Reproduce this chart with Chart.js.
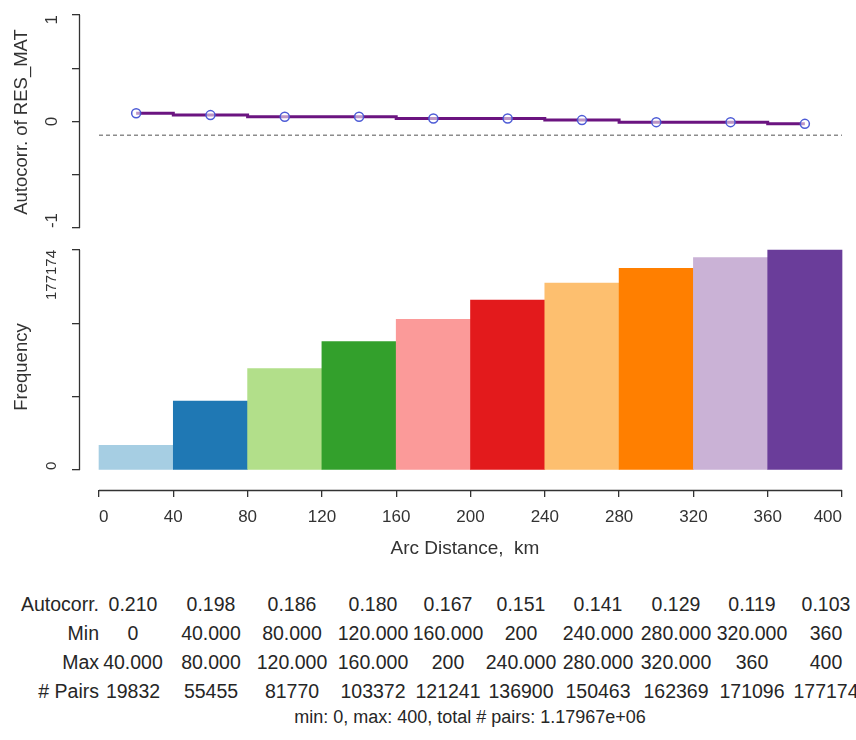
<!DOCTYPE html>
<html>
<head>
<meta charset="utf-8">
<script src="https://cdn.jsdelivr.net/npm/chart.js@4.4.1/dist/chart.umd.min.js"></script>
<style>
	html, body { margin: 0; padding: 0; background: #fff; overflow: hidden; }
	#wrap { position: relative; width: 856px; height: 740px; overflow: hidden;
		font-family: "Liberation Sans", Arial, sans-serif; color: #262626; }
	#wrap canvas { position: absolute; left: 0; }
	#top { top: 0; }
	#bottom { top: 240px; }
	.cell, .rowname, #foot { position: absolute; white-space: pre; line-height: 20px; }
	.cell { font-size: 19.5px; transform: translateX(-50%); }
	.rowname { font-size: 19.5px; text-align: right; }
	#foot { font-size: 18px; transform: translateX(-50%); }
</style>
</head>
<body>
<div id="wrap">
	<canvas id="top" width="856" height="240"></canvas>
	<canvas id="bottom" width="856" height="330"></canvas>
	<div id="table"></div>
</div>
<script>
// distance classes, km
var binMin = [0, 40, 80, 120, 160, 200, 240, 280, 320, 360];
var binMax = [40, 80, 120, 160, 200, 240, 280, 320, 360, 400];

// upper panel
var corrPlotted = [0.077, 0.060, 0.045, 0.045, 0.028, 0.028, 0.013, -0.006, -0.006, -0.022];
var corrDashed = -0.13;

// lower panel: number of pairs in each class
var pairs = [19832, 55455, 81770, 103372, 121241, 136900, 150463, 162369, 171096, 177174];

// table under the plot, as printed
var rowNames = ["Autocorr.", "Min", "Max", "# Pairs"];
var corrText = ["0.210", "0.198", "0.186", "0.180", "0.167", "0.151", "0.141", "0.129", "0.119", "0.103"];
var minText = ["0", "40.000", "80.000", "120.000", "160.000", "200", "240.000", "280.000", "320.000", "360"];
var maxText = ["40.000", "80.000", "120.000", "160.000", "200", "240.000", "280.000", "320.000", "360", "400"];
var footText = "min: 0, max: 400, total # pairs: 1.17967e+06";

// axes
var xTicks = [0, 40, 80, 120, 160, 200, 240, 280, 320, 360, 400];
var corrTicks = [-1, -0.5, 0, 0.5, 1];
var corrTickLabels = ["-1", "", "0", "", "1"];
var freqTicks = [0, 59058, 118116, 177174];
var freqTickLabels = ["0", "", "", "177174"];

var binColors = ["#a6cee3", "#1f78b4", "#b2df8a", "#33a02c", "#fb9a99",
	"#e31a1c", "#fdbf6f", "#ff7f00", "#cab2d6", "#6a3d9a"];

var FONT = "'Liberation Sans', Arial, sans-serif";
var INK = "#333";
Chart.defaults.font.family = FONT;
Chart.defaults.color = INK;

// x range so that 0 and 400 land where R put them
var xMin = -10.23, xMax = 404.3;

function centers() {
	return binMin.map(function (m, i) { return (m + binMax[i]) / 2; });
}

/* R style axes: the line only runs from first to last tick,
   y labels sit parallel to the axis and are kept inside that span */
var rAxes = {
	id: "rAxes",
	afterDraw: function (chart, args, opts) {
		var ctx = chart.ctx;
		ctx.save();
		ctx.strokeStyle = INK;
		ctx.lineWidth = 1.3;
		Object.keys(chart.scales).forEach(function (id) {
			var s = chart.scales[id];
			if (s.options.display === false || !s.ticks.length) return;
			var a = s.getPixelForValue(s.ticks[0].value),
				b = s.getPixelForValue(s.ticks[s.ticks.length - 1].value);
			ctx.beginPath();
			if (s.isHorizontal()) {
				ctx.moveTo(a, s.top + 0.5);
				ctx.lineTo(b, s.top + 0.5);
			} else {
				ctx.moveTo(s.right - 0.5, a);
				ctx.lineTo(s.right - 0.5, b);
			}
			ctx.stroke();
		});

		var y = chart.scales.y;
		var lo = y.getPixelForValue(y.ticks[0].value),
			hi = y.getPixelForValue(y.ticks[y.ticks.length - 1].value);
		ctx.fillStyle = INK;
		ctx.font = opts.fontSize + "px " + FONT;
		ctx.textAlign = "center";
		ctx.textBaseline = "middle";
		y.ticks.forEach(function (t, i) {
			var txt = opts.labels[i];
			if (!txt) return;
			var w = ctx.measureText(txt).width;
			var p = y.getPixelForValue(t.value);
			p = Math.min(Math.max(p, hi + w / 2), lo - w / 2);
			ctx.save();
			ctx.translate(opts.labelX, p);
			ctx.rotate(-Math.PI / 2);
			ctx.fillText(txt, 0, 0);
			ctx.restore();
		});
		ctx.restore();
	}
};

function yAxis(min, max, ticks, title) {
	return {
		min: min,
		max: max,
		afterFit: function (s) { s.width = 80; },
		afterBuildTicks: function (s) {
			s.ticks = ticks.map(function (v) { return {value: v}; });
		},
		ticks: {display: false},
		grid: {drawOnChartArea: false, drawTicks: true, tickLength: 8, color: INK, lineWidth: 1.3},
		border: {display: false},
		title: {display: true, text: title, color: INK, font: {size: 18.5}, padding: {top: 11, bottom: 0}}
	};
}

// upper panel: correlogram
new Chart(document.getElementById("top"), {
	type: "line",
	data: {
		datasets: [{
			data: centers().map(function (c, i) { return {x: c, y: corrPlotted[i]}; }),
			stepped: "middle",
			borderColor: "#6b1480",
			borderWidth: 3,
			pointRadius: 4.5,
			pointBorderColor: "#4d5bd6",
			pointBorderWidth: 1.5,
			pointBackgroundColor: "rgba(255,255,255,0.55)",
			order: 1
		}, {
			data: [{x: binMin[0], y: corrDashed}, {x: binMax[binMax.length - 1], y: corrDashed}],
			borderColor: "#8c8c8c",
			borderWidth: 1.5,
			borderDash: [4, 3],
			pointRadius: 0,
			order: 2
		}]
	},
	options: {
		responsive: false,
		animation: false,
		layout: {padding: {top: 10, bottom: 4, left: 0, right: 6}},
		plugins: {
			legend: {display: false},
			tooltip: {enabled: false},
			rAxes: {labels: corrTickLabels, fontSize: 17, labelX: 52}
		},
		scales: {
			x: {type: "linear", display: false, min: xMin, max: xMax},
			y: yAxis(-1.0558, 1.0465, corrTicks, "Autocorr. of RES_MAT")
		}
	},
	plugins: [rAxes]
});

// lower panel: pairs per class
new Chart(document.getElementById("bottom"), {
	type: "bar",
	data: {
		datasets: [{
			data: centers().map(function (c, i) { return {x: c, y: pairs[i]}; }),
			backgroundColor: binColors,
			borderWidth: 0,
			barPercentage: 1,
			categoryPercentage: 1
		}]
	},
	options: {
		responsive: false,
		animation: false,
		layout: {padding: {top: 4, bottom: 0, left: 0, right: 6}},
		plugins: {
			legend: {display: false},
			tooltip: {enabled: false},
			rAxes: {labels: freqTickLabels, fontSize: 15, labelX: 52}
		},
		scales: {
			x: {
				type: "linear",
				min: xMin,
				max: xMax,
				offset: false,
				afterFit: function (s) { s.height = 80; },
				afterBuildTicks: function (s) {
					s.ticks = xTicks.map(function (v) { return {value: v}; });
				},
				ticks: {align: "inner", padding: 10, font: {size: 17}, color: INK, maxRotation: 0,
					callback: function (v) { return String(v); }},
				grid: {drawOnChartArea: false, drawTicks: true, tickLength: 7, color: INK, lineWidth: 1.3, offset: false},
				border: {display: false},
				title: {display: true, text: "Arc Distance,  km", color: INK, font: {size: 19}, padding: {top: 0, bottom: 10}}
			},
			y: yAxis(-16107, 182006, freqTicks, "Frequency")
		}
	},
	plugins: [rAxes]
});

// summary table
var colX = [133, 211, 292, 373, 448, 521, 598, 676, 752, 826];
var rowY = [604, 633, 662, 691];
var table = document.getElementById("table");
var rows = [corrText, minText, maxText, pairs.map(String)];

rows.forEach(function (vals, r) {
	var name = document.createElement("div");
	name.className = "rowname";
	name.style.right = (856 - 99) + "px";
	name.style.top = (rowY[r] - 10) + "px";
	name.textContent = rowNames[r];
	table.appendChild(name);
	vals.forEach(function (v, c) {
		var d = document.createElement("div");
		d.className = "cell";
		d.style.left = colX[c] + "px";
		d.style.top = (rowY[r] - 10) + "px";
		d.textContent = v;
		table.appendChild(d);
	});
});

var foot = document.createElement("div");
foot.id = "foot";
foot.style.left = "470px";
foot.style.top = (717 - 10) + "px";
foot.textContent = footText;
table.appendChild(foot);
</script>
</body>
</html>
